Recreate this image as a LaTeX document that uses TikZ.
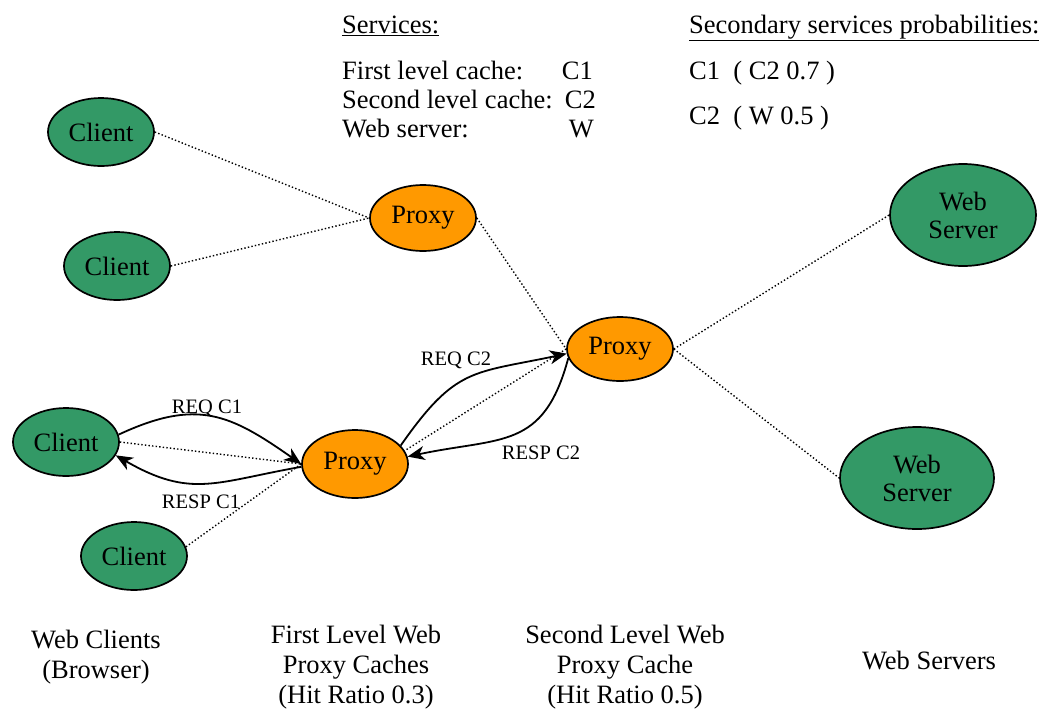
\documentclass[tikz,border=0pt]{standalone}
\usepackage{fontspec}
\setmainfont{Liberation Serif}
\usetikzlibrary{shapes.geometric,arrows.meta}
\definecolor{nodegreen}{HTML}{339966}
\definecolor{proxyorange}{HTML}{FF9900}
\newcommand{\bigtext}{\fontsize{26.5}{30}\selectfont}
\newcommand{\smalltext}{\fontsize{20.5}{24}\selectfont}
\tikzset{
  host/.style={ellipse, draw=black, line width=1.7pt, inner sep=0pt, font=\bigtext, align=center},
  clientnode/.style={host, fill=nodegreen, minimum width=106pt, minimum height=68pt},
  proxynode/.style={host, fill=proxyorange, minimum width=106pt, minimum height=66pt},
  servernode/.style={host, fill=nodegreen, minimum width=150pt, minimum height=102pt},
  link/.style={line width=1.4pt, dash pattern=on 1.4pt off 2.2pt},
  msg/.style={line width=1.8pt, -{Stealth[length=17pt,width=14pt,inset=5pt]}},
  msglabel/.style={font=\smalltext, inner sep=0pt},
  txt/.style={font=\bigtext, inner sep=0pt},
  caption/.style={font=\fontsize{26.5}{30}\selectfont, align=center, inner sep=0pt}
}
\begin{document}
\begin{tikzpicture}[x=1pt,y=1pt]
\useasboundingbox (0,0) rectangle (1049,-710);

% hosts
\node[clientnode] (c1) at (101,-132) {Client};
\node[clientnode] (c2) at (117,-266) {Client};
\node[clientnode] (c3) at (66,-442) {Client};
\node[clientnode] (c4) at (134,-556) {Client};
\node[proxynode] (p1) at (423,-218) {Proxy};
\node[proxynode, minimum height=64pt] (p2) at (620,-349) {Proxy};
\node[proxynode, minimum height=68pt] (p3) at (355,-464) {Proxy};
\node[servernode, minimum width=146pt] (w1) at (963,-215) {Web\\[-2pt]Server};
\node[servernode, minimum width=154pt] (w2) at (917,-478) {Web\\[-2pt]Server};

% network links
\draw[link] (c1.east) -- (p1.west);
\draw[link] (c2.east) -- (p1.west);
\draw[link] (p1.east) -- (p2.west);
\draw[link] (c3.east) -- (p3.west);
\draw[link] (c4.10) -- (p3.west);
\draw[link] (p2.west) -- (p3.15);
\draw[link] (p2.east) -- (w1.west);
\draw[link] (p2.east) -- (w2.west);

% request / response messages
\draw[msg] (c3.8) to[out=25, in=145, looseness=1.2] (p3.west);
\draw[msg] (p3.183) to[out=190, in=-30, looseness=1.2] (c3.-15);
\draw[msg] (p3.22) to[out=55, in=192, looseness=1.3] (p2.185);
\draw[msg] (p2.190) to[out=-105, in=12, looseness=1.3] (p3.8);

\node[msglabel] (lreq1) at (207,-408) {REQ C1};
\node[msglabel] (lresp1) at (201,-502) {RESP C1};
\node[msglabel] (lreq2) at (456,-360) {REQ C2};
\node[msglabel] (lresp2) at (541,-453) {RESP C2};

% service tables
\node[txt, anchor=base west] (svc) at (342,-33) {\underline{Services:}};
\node[txt, anchor=base west] (s1) at (342,-79) {First level cache:};
\node[txt, anchor=base east] (s1v) at (593,-79) {C1};
\node[txt, anchor=base west] (s2) at (342,-108) {Second level cache:};
\node[txt, anchor=base east] (s2v) at (596,-108) {C2};
\node[txt, anchor=base west] (s3) at (342,-137) {Web server:};
\node[txt, anchor=base east] (s3v) at (594,-137) {W};

\node[txt, anchor=base west] (sec) at (689,-33) {\underline{Secondary services probabilities:}};
\node[txt, anchor=base west] (p1v) at (689,-79) {C1\ \ ( C2 0.7 )};
\node[txt, anchor=base west] (p2v) at (689,-124) {C2\ \ ( W 0.5 )};

% tier captions
\node[caption] (cap1) at (96,-657) {Web Clients\\(Browser)};
\node[caption] (cap2) at (356,-667) {First Level Web\\Proxy Caches\\(Hit Ratio 0.3)};
\node[caption] (cap3) at (625,-667) {Second Level Web\\Proxy Cache\\(Hit Ratio 0.5)};
\node[caption] (cap4) at (929,-660) {Web Servers};
\end{tikzpicture}
\end{document}
